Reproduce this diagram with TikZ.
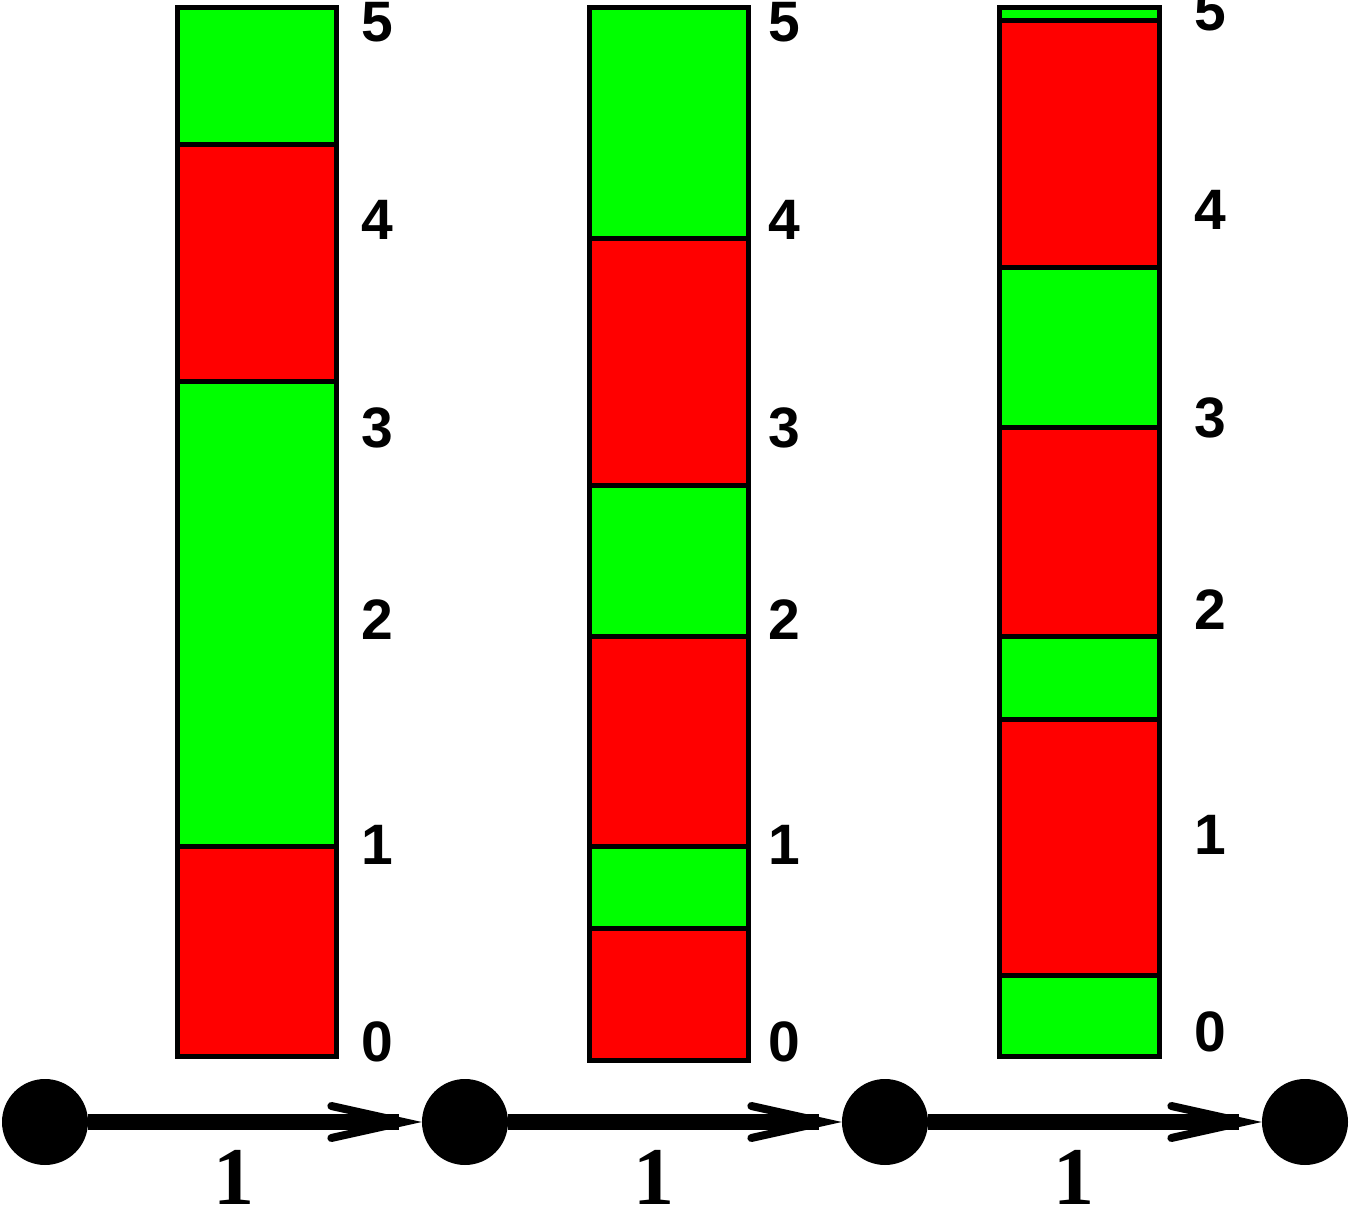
\documentclass[tikz,border=0pt]{standalone}
\usepackage{fontspec}
\setmainfont{Liberation Serif}
\newfontfamily\labfont{Liberation Sans}
\newfontfamily\wtfont{Liberation Serif}
\usetikzlibrary{arrows.meta}
\definecolor{gr}{RGB}{0,255,0}
\definecolor{rd}{RGB}{255,0,0}
\begin{document}
\begin{tikzpicture}[x=1pt,y=-1pt,
  seg/.style={draw=black,line width=5pt},
  tick/.style={font=\labfont\bfseries\fontsize{57}{57}\selectfont,inner sep=0pt},
  dot/.style={circle,fill=black,minimum size=86pt,inner sep=0pt},
  wt/.style={font=\wtfont\bfseries\fontsize{82}{82}\selectfont,inner sep=0pt,anchor=north},
  arr/.style={line width=16pt,-{Straight Barb[length=72pt,width=32pt,line width=8pt,line cap=round,line join=miter]}}]
\useasboundingbox (0,0) rectangle (1350,1207);
% bar 1
\foreach \a/\b/\c in {8/144/gr,144/381/rd,381/846/gr,846/1056/rd}
  \filldraw[fill=\c,seg] (177,\a) rectangle (336,\b);
% bar 2
\foreach \a/\b/\c in {8/238/gr,238/485/rd,485/636/gr,636/846/rd,846/928/gr,928/1060/rd}
  \filldraw[fill=\c,seg] (589,\a) rectangle (748,\b);
% bar 3
\foreach \a/\b/\c in {8/21/gr,21/267/rd,267/427/gr,427/636/rd,636/719/gr,719/975/rd,975/1056/gr}
  \filldraw[fill=\c,seg] (999,\a) rectangle (1159,\b);
% tick labels
\foreach \v/\y in {5/22,4/220,3/428,2/620,1/845,0/1042}{
  \node[tick] (ta\v) at (377,\y) {\v};
  \node[tick] (tb\v) at (784,\y) {\v};
}
\foreach \v/\y in {5/11,4/210,3/418,2/610,1/835,0/1032}
  \node[tick] (tc\v) at (1210,\y) {\v};
% path
\node[dot] (c1) at (45,1122) {};
\node[dot] (c2) at (465,1122) {};
\node[dot] (c3) at (885,1122) {};
\node[dot] (c4) at (1305,1122) {};
\draw[arr] (c1) -- (c2);
\draw[arr] (c2) -- (c3);
\draw[arr] (c3) -- (c4);
\node[wt] (w1) at (234,1150) {1};
\node[wt] (w2) at (654,1150) {1};
\node[wt] (w3) at (1074,1150) {1};
\end{tikzpicture}
\end{document}
